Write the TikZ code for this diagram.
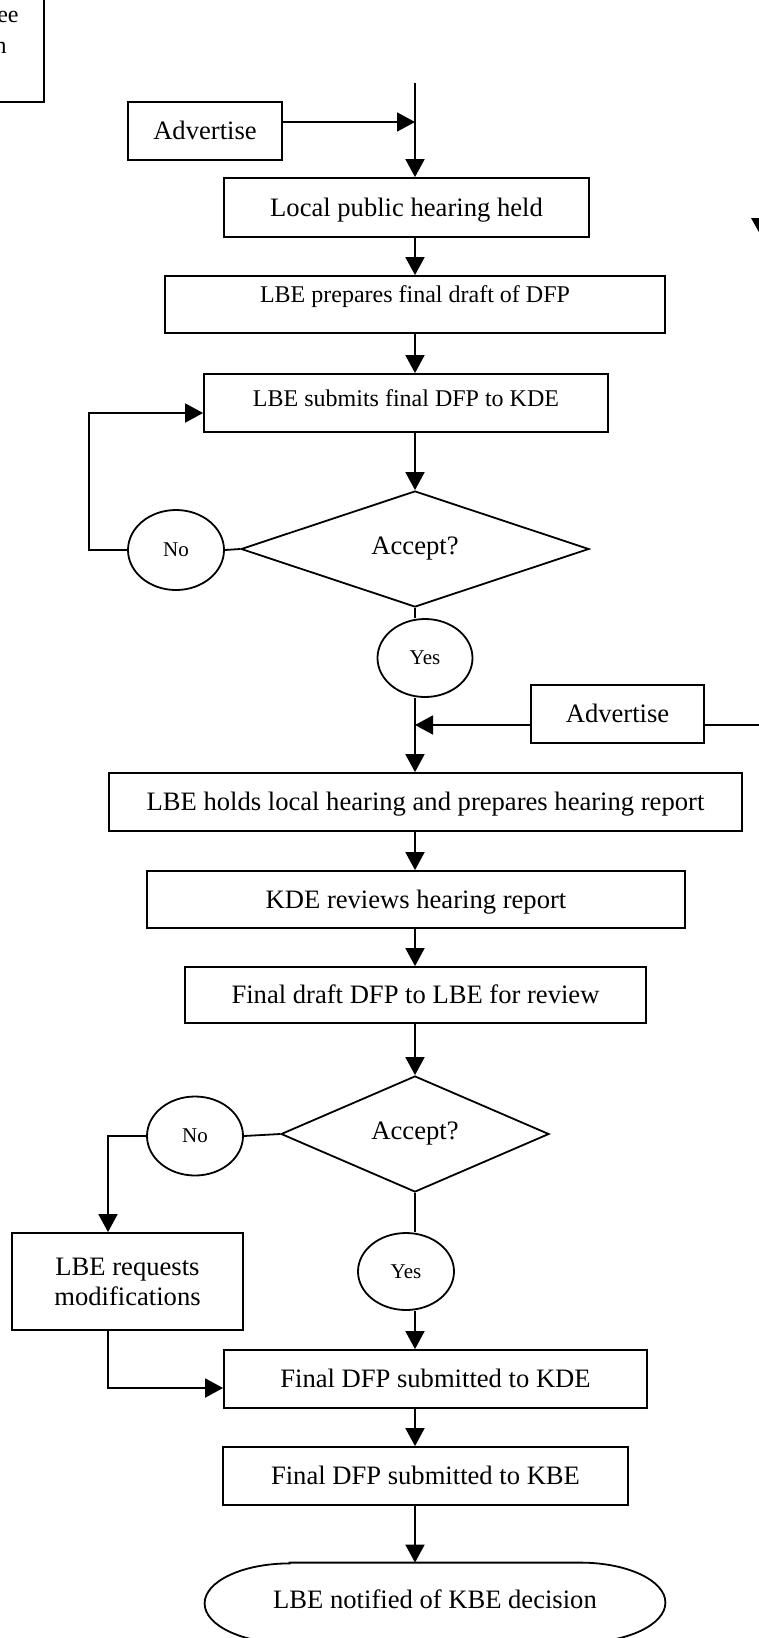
\documentclass[tikz,border=0pt]{standalone}
\usepackage{fontspec}
\setmainfont{Liberation Serif}
\usetikzlibrary{arrows.meta,shapes.geometric,calc}
\newcommand\fa{\fontsize{13.3}{15}\selectfont}
\newcommand\fb{\fontsize{12}{14}\selectfont}
\newcommand\fc{\fontsize{10.5}{12}\selectfont}
\begin{document}
\begin{tikzpicture}[x=0.5pt,y=-0.5pt,
  ln/.style={line width=0.9pt},
  arr/.style={ln,-{Triangle[length=9pt,width=9.5pt]}},
  box/.style={draw,ln,rectangle,inner sep=0pt,font=\fa,text height=10.5pt,text depth=2pt},
  dec/.style={draw,ln,diamond,aspect=3,inner sep=0pt,font=\fa},
  oval/.style={draw,ln,ellipse,inner sep=0pt,font=\fc}]
\useasboundingbox (0,0) rectangle (759,1638);
\clip (0,0) rectangle (759,1638);

% partly visible box at top left
\node[box,minimum width=94pt,minimum height=62pt] (tl) at (-50,40) {};
\node[anchor=base east,font=\fb,inner sep=0pt] (tl1) at (19,23) {ee};
\node[anchor=base east,font=\fb,inner sep=0pt] (tl2) at (7,54) {n};

% arrowhead cut by the right edge
\fill (751,218) -- (769,218) -- (760,234) -- cycle;

\node[box,minimum width=77pt,minimum height=29pt] (adv1) at (205,131) {Advertise};
\node[box,minimum width=182.5pt,minimum height=29.5pt] (lph) at (406.5,207.5) {Local public hearing held};
\node[box,font=\fb,text height=8pt,text depth=9.6pt,minimum width=250pt,minimum height=28.5pt] (prep) at (415,304.5) {LBE prepares final draft of DFP};
\node[box,font=\fb,text height=8pt,text depth=4.1pt,minimum width=202pt,minimum height=29pt] (sub) at (406,403) {LBE submits final DFP to KDE};
\node[dec,minimum width=174pt,minimum height=58pt] (d1) at (415,549) {Accept?};
\node[oval,minimum width=48pt,minimum height=40pt] (no1) at (176,550) {No};
\node[oval,minimum width=47.5pt,minimum height=39pt] (yes1) at (425,658) {Yes};
\node[box,minimum width=86.5pt,minimum height=29pt] (adv2) at (617.5,714) {Advertise};
\node[box,minimum width=316.5pt,minimum height=29pt] (holds) at (425.5,802) {LBE holds local hearing and prepares hearing report};
\node[box,minimum width=269pt,minimum height=28.5pt] (kde) at (416,899.5) {KDE reviews hearing report};
\node[box,minimum width=230.5pt,minimum height=28pt] (fdr) at (415.5,995) {Final draft DFP to LBE for review};
\node[dec,minimum width=134pt,minimum height=58pt] (d2) at (415,1134) {Accept?};
\node[oval,minimum width=48pt,minimum height=39.5pt] (no2) at (195,1136) {No};
\node[box,align=center,text height=,text depth=,minimum width=115.5pt,minimum height=48.5pt] (req) at (127.5,1281.5) {LBE requests\\modifications};
\node[oval,minimum width=48pt,minimum height=38.5pt] (yes2) at (406,1271.5) {Yes};
\node[box,minimum width=211.5pt,minimum height=29pt] (fkde) at (435.5,1379) {Final DFP submitted to KDE};
\node[box,minimum width=202.5pt,minimum height=29pt] (fkbe) at (425.5,1476) {Final DFP submitted to KBE};
\node[inner sep=0pt,font=\fa,text height=10.5pt,text depth=5pt,minimum width=230pt,minimum height=40pt] (end) at (435,1603) {LBE notified of KBE decision};
\draw[ln] ($(end.north west)+(85,0)$) -- ($(end.north east)+(-85,0)$)
  arc[start angle=90,end angle=-90,x radius=42.5pt,y radius=20pt]
  -- ($(end.south west)+(85,0)$)
  arc[start angle=270,end angle=90,x radius=42.5pt,y radius=20pt] -- cycle;

% connectors
\coordinate (top) at (415,83);
\coordinate (j1) at (415,122);
\coordinate (l1) at (89,413);
\coordinate (j2) at (415,725);
\coordinate (l2) at (108,1388);
\coordinate (r2) at (780,725);

\draw[arr] (top) -- (top |- lph.north);
\draw[arr] (adv1.east |- j1) -- (j1);
\draw[arr] (top |- lph.south) -- (top |- prep.north);
\draw[arr] (top |- prep.south) -- (top |- sub.north);
\draw[arr] (top |- sub.south) -- (d1.north);
\draw[ln] (d1.west) -- (no1.east);
\draw[arr] (no1.west) -| (l1) -- (l1 -| sub.west);
\draw[ln] (d1.south) -- (d1.south |- yes1.north);
\draw[arr] (d1.south |- yes1.south) -- (d1.south |- holds.north);
\draw[arr] (adv2.west |- j2) -- (j2);
\draw[ln] (adv2.east |- j2) -- (r2);
\draw[arr] (top |- holds.south) -- (top |- kde.north);
\draw[arr] (top |- kde.south) -- (top |- fdr.north);
\draw[arr] (top |- fdr.south) -- (d2.north);
\draw[ln] (d2.west) -- (no2.east);
\draw[arr] (no2.west) -| (l2 |- req.north);
\draw[arr] (l2 |- req.south) -- (l2) -- (l2 -| fkde.west);
\draw[ln] (d2.south) -- (d2.south |- yes2.north);
\draw[arr] (d2.south |- yes2.south) -- (d2.south |- fkde.north);
\draw[arr] (top |- fkde.south) -- (top |- fkbe.north);
\draw[arr] (top |- fkbe.south) -- (top |- end.north);
\end{tikzpicture}
\end{document}
